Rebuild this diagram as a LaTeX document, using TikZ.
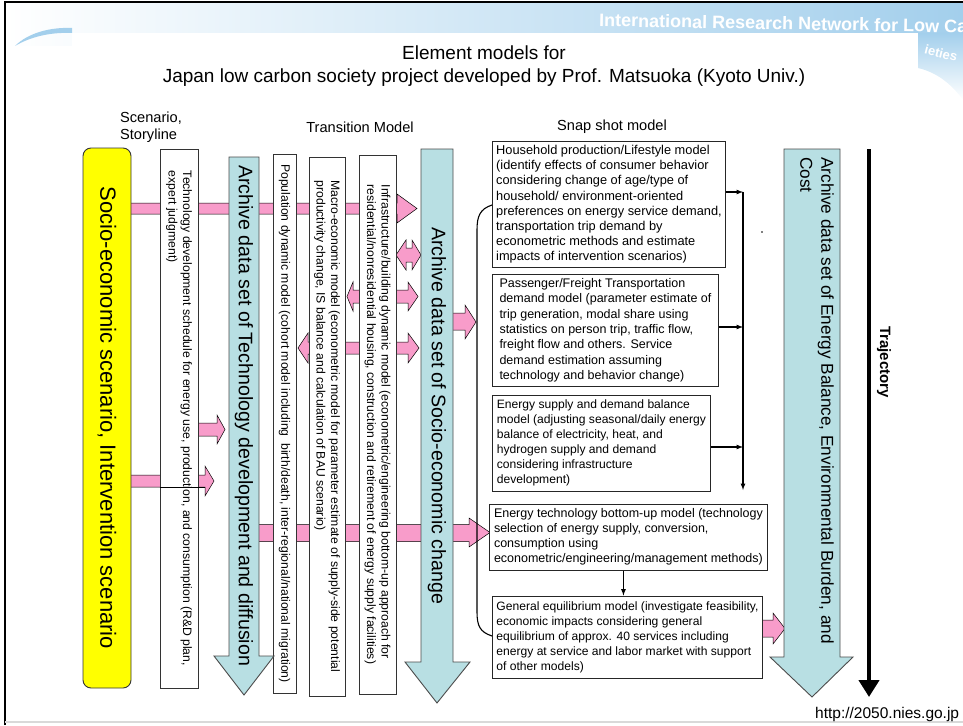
\documentclass[tikz,border=0pt]{standalone}
\usepackage{fontspec}
\setmainfont{Liberation Sans}
\usetikzlibrary{arrows,arrows.meta}
\usetikzlibrary{positioning}

\definecolor{scenyellow}{HTML}{FFFF00}
\definecolor{archteal}{HTML}{B8DFE3}
\definecolor{linkpink}{HTML}{F89CCA}
\definecolor{bandblue}{HTML}{A3CFEC}

\tikzset{
  scenbox/.style={draw=black!80, fill=scenyellow, rounded corners=8pt, rotate=-90, inner sep=0pt, line width=0.9pt, font=\fontsize{22}{26}\selectfont},
  vbox/.style={draw=black!80, fill=white, rotate=-90, align=left, inner sep=0pt, line width=0.9pt, font=\fontsize{12.2}{14.5}\selectfont},
  snapbox/.style={draw=black!85, fill=white, anchor=north west, align=left, inner xsep=3pt, line width=0.9pt, font=\fontsize{12.8}{15.2}\selectfont},
  pinkblock/.style={fill=linkpink, draw=black, line width=0.5pt},
  archblock/.style={fill=archteal, draw=black!70, line width=0.9pt},
  bigtext/.style={rotate=-90, inner sep=0pt, font=\fontsize{19.6}{24}\selectfont},
  headlabel/.style={font=\fontsize{14.6}{17}\selectfont},
  feed/.style={-latex, line width=1.2pt},
}

\begin{document}
\begin{tikzpicture}[x=1pt,y=-1pt]
\useasboundingbox (0,0) rectangle (963,725);

% slide frame and header
\shade[left color=white, right color=bandblue] (5,3) rectangle (963,48);
\node[anchor=west, text=white, rotate=-1, inner sep=0pt, font=\fontsize{18}{21}\selectfont\bfseries] (banner) at (599,20) {International Research Network for Low Carbon Societies};
\shade[top color=bandblue, bottom color=white] (918,33) -- (963,33) -- (963,100) .. controls (950,82) and (935,72) .. (918,68) -- cycle;
\node[text=white, rotate=-14, inner sep=0pt, font=\fontsize{13}{15}\selectfont\bfseries] (bannerend) at (941,53) {ieties};
\fill[white] (72,33) rectangle (918,725);
\fill[white] (5,46) rectangle (72,725);
\fill[bandblue] (15,46) .. controls (28,33) and (50,27) .. (72,28) -- (72,33) .. controls (50,32) and (30,37) .. (15,46) -- cycle;
\draw[line width=2.5pt] (5,725) -- (5,2) -- (963,2);
\draw[black!15, line width=2pt] (5,722) -- (963,722);

\node[align=center, font=\fontsize{19}{23}\selectfont] (title) at (484,66) {Element models for\\Japan low carbon society project developed by Prof. Matsuoka (Kyoto Univ.)};

\node[headlabel, anchor=north west, align=left, inner sep=0pt] (scenlbl) at (120,112) {Scenario,\\Storyline};
\node[headlabel] (translbl) at (360,127) {Transition Model};
\node[headlabel] (snaplbl) at (612,127) {Snap shot model};

% pink block arrows (behind the boxes)
\draw[pinkblock] (125,203) -- (397,203) -- (397,194) -- (417,208.5) -- (397,223) -- (397,214) -- (125,214) -- cycle;
\draw[pinkblock] (255,524.5) -- (469,524.5) -- (469,518) -- (490,532.5) -- (469,547) -- (469,541.5) -- (255,541.5) -- cycle;
\draw[pinkblock] (195,423) -- (217,423) -- (217,415) -- (225,429.5) -- (217,444) -- (217,436) -- (195,436) -- cycle;
\draw[pinkblock] (125,475) -- (205,475) -- (205,466) -- (214,481) -- (205,496) -- (205,487) -- (125,487) -- cycle;
\draw[pinkblock] (396,255) -- (406,240) -- (406,248) -- (412,248) -- (412,240) -- (421,255) -- (412,270) -- (412,262) -- (406,262) -- (406,270) -- cycle;
\draw[pinkblock] (347,296.5) -- (353,282) -- (353,290) -- (408,290) -- (408,282) -- (418,296.5) -- (408,311) -- (408,303) -- (353,303) -- (353,311) -- cycle;
\draw[pinkblock] (298,348) -- (308,333) -- (308,342) -- (408,342) -- (408,333) -- (419,348) -- (408,363) -- (408,354) -- (308,354) -- (308,363) -- cycle;
\draw[pinkblock] (450,313) -- (465,313) -- (465,305) -- (476,322) -- (465,339) -- (465,330) -- (450,330) -- cycle;
\draw[pinkblock] (758,620) -- (773,620) -- (773,613) -- (785,628.5) -- (773,644) -- (773,637) -- (758,637) -- cycle;

% scenario and transition models
\node[scenbox, minimum width=540pt, minimum height=48pt] (scen) at (107,418) {Socio-economic scenario, Intervention scenario};
\node[vbox, minimum width=539pt, minimum height=38pt] (tsch) at (179,418.5) {Technology development schedule for energy use, production, and consumption (R\&D plan,\\expert judgment)};
\draw[line width=0.5pt] (tsch.south |- 0,487) -- (205,487);
\node[vbox, minimum width=539pt, minimum height=23pt] (pop) at (284.5,423.5) {Population dynamic model (cohort model including~ birth/death, inter-regional/national migration)};
\node[vbox, minimum width=539pt, minimum height=36pt] (macro) at (327,426.5) {Macro-economic model (econometric model for parameter estimate of supply-side potential\\productivity change, IS balance and calculation of BAU scenario)};
\node[vbox, minimum width=539pt, minimum height=37pt] (infra) at (377.5,424.5) {Infrastructure/building dynamic model (econometric/engineering bottom-up approach for\\residential/nonresidential housing, construction and retirement of energy supply facilities)};

% archive arrows
\draw[archblock] (229,157) -- (259,157) -- (259,656) -- (274,656) -- (244,695) -- (214,656) -- (229,656) -- cycle;
\node[bigtext, anchor=west] (archtech) at (244,165) {Archive data set of Technology development and diffusion};
\draw[archblock] (421,149) -- (453,149) -- (453,662) -- (470,662) -- (437,703) -- (405,662) -- (421,662) -- cycle;
\node[bigtext] (archsoc) at (437,415.5) {Archive data set of Socio-economic change};
\draw[archblock] (784,149) -- (840,149) -- (840,657) -- (853,657) -- (812,697) -- (770,657) -- (784,657) -- cycle;
\node[rotate=-90, anchor=north west, align=left, inner sep=0pt, font=\fontsize{17.2}{21}\selectfont] (archeb) at (834,157) {Archive data set of Energy Balance, Environmental Burden, and\\Cost};

% snap shot models
\node[snapbox, minimum width=233pt, minimum height=126pt] (hh) at (492,141) {Household production/Lifestyle model\\(identify effects of consumer behavior\\considering change of age/type of\\household/ environment-oriented\\preferences on energy service demand,\\transportation trip demand by\\econometric methods and estimate\\impacts of intervention scenarios)};
\node[snapbox, minimum width=226pt, minimum height=112pt, inner xsep=6pt, font=\fontsize{12.5}{15.4}\selectfont, below=6pt of hh.south west, anchor=north west] (pf) {Passenger/Freight Transportation\\demand model (parameter estimate of\\trip generation, modal share using\\statistics on person trip, traffic flow,\\freight flow and others. Service\\demand estimation assuming\\technology and behavior change)};
\node[snapbox, minimum width=218pt, minimum height=96pt, font=\fontsize{12.1}{15}\selectfont, below=8pt of pf.south west, anchor=north west] (es) {Energy supply and demand balance\\model (adjusting seasonal/daily energy\\balance of electricity, heat, and\\hydrogen supply and demand\\considering infrastructure\\development)};
\node[snapbox, minimum width=278pt, minimum height=66pt, font=\fontsize{12.5}{15}\selectfont, below=12pt of es.south west, xshift=-3pt, anchor=north west] (et) {Energy technology bottom-up model (technology\\selection of energy supply, conversion,\\consumption using\\econometric/engineering/management methods)};
\node[snapbox, minimum width=270pt, minimum height=82pt, font=\fontsize{12.1}{15}\selectfont, below=25pt of et.south west, xshift=3pt, anchor=north west] (ge) {General equilibrium model (investigate feasibility,\\economic impacts considering general\\equilibrium of approx. 40 services including\\energy at service and labor market with support\\of other models)};

% collector line
\coordinate (c1) at (743,192);
\coordinate (c2) at (743,327);
\coordinate (c3) at (743,447);
\coordinate (cend) at (743,490);
\draw[feed] (hh.east |- c1) -- (c1);
\draw[feed] (pf.east |- c2) -- (c2);
\draw[feed] (es.east |- c3) -- (c3);
\draw[feed] (c1) -- (cend);
\draw[feed] ([xshift=-5pt]et.south) -- ([xshift=-5pt]et.south |- ge.north);
\draw[line width=1.1pt] (hh.west |- 0,205) .. controls (480,209) and (477,216) .. (477,230) -- (477,612) .. controls (477,626) and (480,632) .. (ge.west |- 0,636);
\fill (762,232) circle (0.8pt);

% trajectory
\coordinate (trtop) at (869,149);
\coordinate (trend) at (869,697);
\draw[line width=4.5pt, -{Triangle[length=17pt,width=20pt]}] (trtop) -- (trend);
\node[rotate=-90, font=\fontsize{15}{18}\selectfont\bfseries] (traj) at (884,362) {Trajectory};

\node[anchor=base west, inner sep=0pt, font=\fontsize{15.5}{18}\selectfont] (url) at (815,718) {http://2050.nies.go.jp};
\end{tikzpicture}
\end{document}
